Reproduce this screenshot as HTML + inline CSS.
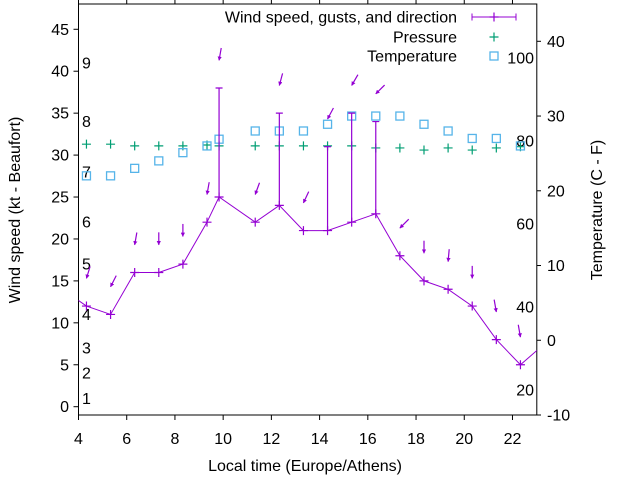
<!DOCTYPE html>
<html><head><meta charset="utf-8"><style>
html,body{margin:0;padding:0;background:#fff}
svg{display:block;font-family:"Liberation Sans",sans-serif}
</style></head><body>
<svg id="chart" width="640" height="480" viewBox="0 0 640 480" xmlns="http://www.w3.org/2000/svg">
<defs><clipPath id="pc"><rect x="78.5" y="4" width="458.3" height="411"/></clipPath>
<marker id="ah" viewBox="0 0 10 10" refX="9" refY="5" markerWidth="3.5" markerHeight="3.5" orient="auto"><path d="M0,0 L10,5 L0,10 z" fill="#9400d3"/></marker></defs>
<g id="axes"></g>
<g id="marks"></g>
</svg>
<script>
const times=[4.33,5.33,6.33,7.33,8.33,9.33,9.83,11.33,12.33,13.33,14.33,15.33,16.33,17.33,18.33,19.33,20.33,21.33,22.33];
const wind=[12,11,16,16,17,22,25,22,24,21,21,22,23,18,15,14,12,8,5];
const gust=[null,null,null,null,null,null,38,null,35,null,31,35,34,null,null,null,null,null,null];
const windBefore=[3.33,14];
const windAfter=[23.33,7.5];
const dirFrom=[17,27,10,0,0,10,10,20,15,25,28,30,45,45,0,5,0,350,350];
const pressure=[31.3,31.3,31.1,31.1,31.1,31.2,31.1,31.1,31.1,31.1,31.1,31.1,30.85,30.85,30.6,30.85,30.6,30.85,31.0];
const tempC=[22,22,23,24,25.1,26,26.9,28,28,28,28.9,30,30,30,28.9,28,27,27,26];
const xTicks=[4,6,8,10,12,14,16,18,20,22];
const yTicks=[0,5,10,15,20,25,30,35,40,45];
const y2Ticks=[-10,0,10,20,30,40];
const fLabels=[20,40,60,80,100];
const bft=[1,2,3,4,5,6,7,8,9];
const bftKt=[1,4,7,11,17,22,28,34,41];

const X=v=>78.5+(v-4)*24.11;
const Y=v=>406.7-v*8.387;
const Y2=v=>415-(v+10)*7.474;
const NS="http://www.w3.org/2000/svg";
const ax=document.getElementById('axes'), mk=document.getElementById('marks');
function el(tag,attrs,parent,text){const e=document.createElementNS(NS,tag);for(const k in attrs)e.setAttribute(k,attrs[k]);if(text!==undefined)e.textContent=text;parent.appendChild(e);return e;}
const FS=16;
let b=el('rect',{x:78.5,y:4,width:458.3,height:411,fill:'none',stroke:'#000','stroke-width':1},ax);


xTicks.forEach(t=>{
  const x=X(t);
  el('line',{x1:x,y1:415,x2:x,y2:420,stroke:'#000'},ax);
  el('line',{x1:x,y1:4,x2:x,y2:0,stroke:'#000'},ax);
  const l=el('text',{x:x,y:444,'font-size':FS,'text-anchor':'middle'},ax,String(t));
  
  
});
yTicks.forEach(t=>{
  const y=Y(t);
  el('line',{x1:73.5,y1:y,x2:78.5,y2:y,stroke:'#000'},ax);
  const l=el('text',{x:69,y:y+5.5,'font-size':FS,'text-anchor':'end'},ax,String(t));
  
  
});
y2Ticks.forEach(t=>{
  const y=Y2(t);
  el('line',{x1:536.8,y1:y,x2:541,y2:y,stroke:'#000'},ax);
  const l=el('text',{x:547,y:y+5.5,'font-size':FS,'text-anchor':'start'},ax,String(t));
  
  
});
fLabels.forEach(f=>{
  const c=(f-32)*5/9;
  const l=el('text',{x:534,y:Y2(c)+5.5,'font-size':FS,'text-anchor':'end'},ax,String(f));
  
  
});
bft.forEach((n,i)=>{
  const l=el('text',{x:82,y:Y(bftKt[i])+5.5,'font-size':FS,'text-anchor':'start'},ax,String(n));
  
  
});
let t1=el('text',{x:305,y:471,'font-size':FS,'text-anchor':'middle'},ax,'Local time (Europe/Athens)');


let t2=el('text',{x:0,y:0,'font-size':FS,'text-anchor':'middle',transform:'translate(20,210) rotate(-90)'},ax,'Wind speed (kt - Beaufort)');


let t3=el('text',{x:0,y:0,'font-size':FS,'text-anchor':'middle',transform:'translate(602,210) rotate(-90)'},ax,'Temperature (C - F)');



const g=el('g',{'clip-path':'url(#pc)'},mk);
const P='#9400d3', G='#009e73', B='#56b4e9';
function plus(x,y,c,parent){el('path',{d:`M${x-4.5},${y}h9M${x},${y-4.5}v9`,stroke:c,'stroke-width':1.2,fill:'none'},parent);}
function sq(x,y,parent){el('rect',{x:x-4,y:y-4,width:8,height:8,fill:'none',stroke:B,'stroke-width':1.3},parent);}

pressure.forEach((p,i)=>{const gg=el('g',{},g);plus(X(times[i]),Y(p),G,gg);});
tempC.forEach((t,i)=>{const gg=el('g',{},g);sq(X(times[i]),Y2(t),gg);});
const pts=[[windBefore[0],windBefore[1]]].concat(times.map((t,i)=>[t,wind[i]])).concat([[windAfter[0],windAfter[1]]]);
let wl=el('polyline',{points:pts.map(p=>X(p[0])+','+Y(p[1])).join(' '),fill:'none',stroke:P,'stroke-width':1},g);


times.forEach((t,i)=>{
  const gg=el('g',{},g);
  
  
  plus(X(t),Y(wind[i]),P,gg);
  if(gust[i]!=null){
    el('line',{x1:X(t),y1:Y(wind[i]),x2:X(t),y2:Y(gust[i]),stroke:P,'stroke-width':1.2},gg);
    el('line',{x1:X(t)-3.5,y1:Y(gust[i]),x2:X(t)+3.5,y2:Y(gust[i]),stroke:P,'stroke-width':1.2},gg);
  }
  const top=Math.max(wind[i],gust[i]||0)+3.3;
  const hx=X(t), hy=Y(top);
  const a=dirFrom[i]*Math.PI/180, L=12.5;
  const tx=hx+Math.sin(a)*L, ty=hy-Math.cos(a)*L;
  const ar=el('line',{x1:tx,y1:ty,x2:hx,y2:hy,stroke:P,'stroke-width':1.2,'marker-end':'url(#ah)'},g);
  
  
});

const lg=el('g',{},mk);


const labels=['Wind speed, gusts, and direction','Pressure','Temperature'];
const ly=[17,37,56];
labels.forEach((s,i)=>{const l=el('text',{x:457,y:ly[i]+5.5,'font-size':FS,'text-anchor':'end'},lg,s);});
el('line',{x1:472,y1:17,x2:516,y2:17,stroke:P,'stroke-width':1},lg);
el('line',{x1:472,y1:13.5,x2:472,y2:20.5,stroke:P},lg);
el('line',{x1:516,y1:13.5,x2:516,y2:20.5,stroke:P},lg);
plus(494,17,P,lg);
plus(494,37,G,lg);
sq(494,56,lg);
</script>
</body></html>
